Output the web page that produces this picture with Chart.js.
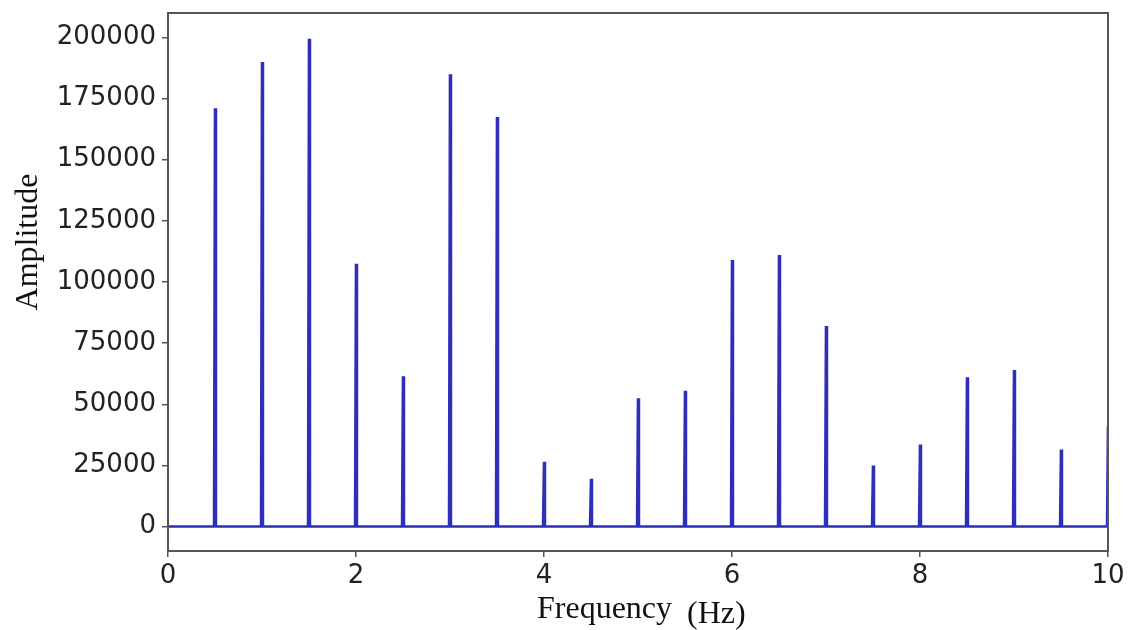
<!DOCTYPE html>
<html>
<head>
<meta charset="utf-8">
<title>Amplitude spectrum</title>
<script src="https://cdn.jsdelivr.net/npm/chart.js@4.4.1/dist/chart.umd.min.js"></script>
<style>
    html, body { margin: 0; padding: 0; background: #fff; }
    #wrap { width: 1133px; height: 630px; }
</style>
</head>
<body>
<div id="wrap"><canvas id="spectrum" width="1133" height="630"></canvas></div>
<script>
// peak positions (Hz) and their amplitudes
const peakFreqs = [0.5, 1.0, 1.5, 2.0, 2.5, 3.0, 3.5, 4.0, 4.5, 5.0,
                   5.5, 6.0, 6.5, 7.0, 7.5, 8.0, 8.5, 9.0, 9.5, 10.0];
const peakAmps = [171000, 190000, 199500, 107500, 61500, 185000, 167500, 26500, 19500, 52500,
                  55500, 109000, 111000, 82000, 25000, 33500, 61000, 64000, 31500, 41000];

const xTicks = [0, 2, 4, 6, 8, 10];
const yTicks = [0, 25000, 50000, 75000, 100000, 125000, 150000, 175000, 200000];

const xTitle = 'Frequency';
const xUnit = '(Hz)';
const yTitle = 'Amplitude';

// each peak is a narrow spike rising from the zero baseline
const halfWidth = 0.01;
const points = [{ x: 0, y: 0 }];
peakFreqs.forEach(function(f, i) {
    points.push({ x: f - halfWidth, y: 0 });
    points.push({ x: f, y: peakAmps[i] });
    points.push({ x: f + halfWidth, y: 0 });
});

const axisColor = '#555555';
const tickFont = { family: 'DejaVu Sans', size: 26 };

// box around the plot and the two axis titles
const framePlugin = {
    id: 'frame',
    beforeDraw: function(chart) {
        const ctx = chart.ctx;
        ctx.save();
        ctx.fillStyle = '#ffffff';
        ctx.fillRect(0, 0, chart.width, chart.height);
        ctx.restore();
    },
    afterDraw: function(chart) {
        const ctx = chart.ctx;
        const a = chart.chartArea;
        ctx.save();
        ctx.strokeStyle = axisColor;
        ctx.lineWidth = 2;
        ctx.strokeRect(a.left, a.top, a.right - a.left, a.bottom - a.top);

        ctx.fillStyle = '#111111';
        ctx.font = '32px "Liberation Serif"';
        ctx.textBaseline = 'alphabetic';
        const mid = (a.left + a.right) / 2;
        ctx.textAlign = 'left';
        ctx.fillText(xTitle, mid - 101, 618);
        ctx.fillText(xUnit, mid + 49, 623);

        ctx.translate(37, 242);
        ctx.rotate(-Math.PI / 2);
        ctx.textAlign = 'center';
        ctx.fillText(yTitle, 0, 0);
        ctx.restore();
    }
};

const ctx = document.getElementById('spectrum').getContext('2d');
new Chart(ctx, {
    type: 'line',
    data: {
        datasets: [{
            label: 'Amplitude',
            data: points,
            borderColor: '#2e2eb8',
            borderWidth: 2.6,
            pointRadius: 0,
            tension: 0,
            fill: false
        }]
    },
    options: {
        responsive: false,
        animation: false,
        layout: { padding: { top: 13, right: 25, left: 0, bottom: 0 } },
        plugins: {
            legend: { display: false },
            tooltip: { enabled: false }
        },
        scales: {
            x: {
                type: 'linear',
                min: 0,
                max: 10,
                afterBuildTicks: function(scale) {
                    scale.ticks = xTicks.map(function(v) { return { value: v }; });
                },
                afterFit: function(scale) {
                    scale.height = 79;
                    scale.paddingLeft = 0;
                    scale.paddingRight = 0;
                },
                grid: { drawOnChartArea: false, drawTicks: true, tickLength: 6, color: axisColor, lineWidth: 1.5 },
                border: { display: true, color: axisColor, width: 2 },
                ticks: {
                    font: tickFont,
                    color: '#222222',
                    padding: 4,
                    maxRotation: 0,
                    callback: function(value) { return String(value); }
                }
            },
            y: {
                type: 'linear',
                min: -10000,
                max: 210000,
                afterBuildTicks: function(scale) {
                    scale.ticks = yTicks.map(function(v) { return { value: v }; });
                },
                afterFit: function(scale) {
                    scale.width = 168;
                    scale.paddingTop = 0;
                    scale.paddingBottom = 0;
                },
                grid: { drawOnChartArea: false, drawTicks: true, tickLength: 6, color: axisColor, lineWidth: 1.5 },
                border: { display: true, color: axisColor, width: 2 },
                ticks: {
                    font: tickFont,
                    color: '#222222',
                    padding: 6,
                    callback: function(value) { return String(value); }
                }
            }
        }
    },
    plugins: [framePlugin]
});
</script>
</body>
</html>
